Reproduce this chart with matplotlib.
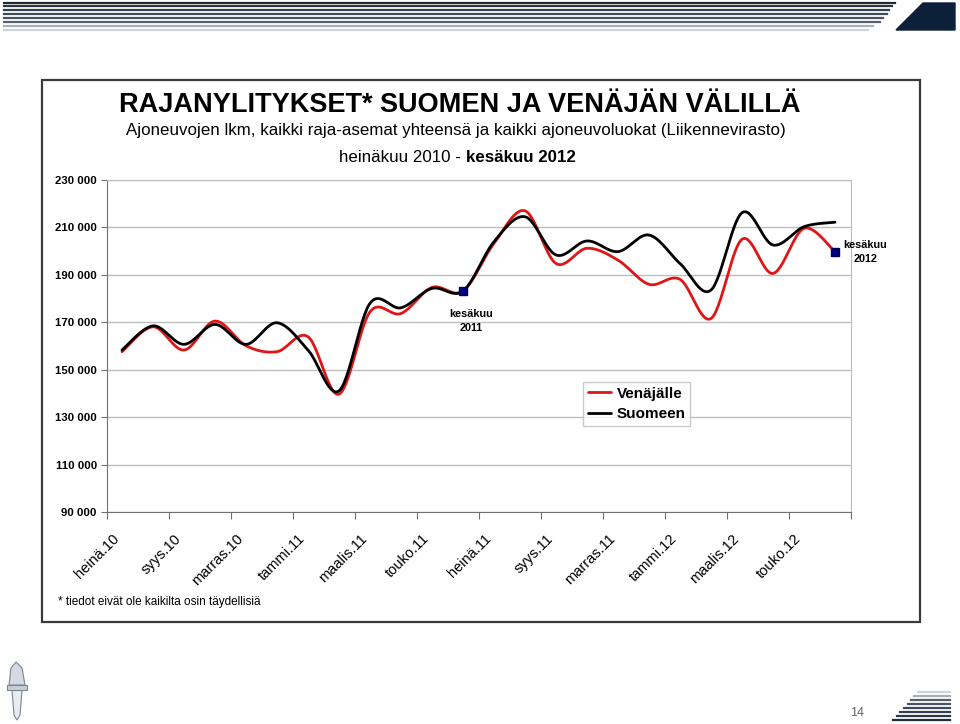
import numpy as np
import matplotlib.pyplot as plt
import matplotlib.transforms as mtransforms
from matplotlib.patches import Rectangle, Polygon
from matplotlib.lines import Line2D

plt.rcParams['font.family'] = ['Liberation Sans', 'DejaVu Sans']

# data
months = ["heinä.10", "elo.10", "syys.10", "loka.10", "marras.10", "joulu.10",
          "tammi.11", "helmi.11", "maalis.11", "huhti.11", "touko.11", "kesä.11",
          "heinä.11", "elo.11", "syys.11", "loka.11", "marras.11", "joulu.11",
          "tammi.12", "helmi.12", "maalis.12", "huhti.12", "touko.12", "kesä.12"]
venajalle = [157600, 168100, 158300, 170500, 160100, 157600,
             163900, 139700, 174400, 173700, 184700, 183200,
             203300, 217000, 194800, 201200, 196200, 186000,
             188100, 171600, 205000, 190600, 209600, 199800]
suomeen = [158300, 168500, 160700, 169100, 160700, 169800,
           158300, 141100, 178000, 176100, 184300, 183200,
           204000, 214500, 198400, 204300, 199800, 206800,
           194800, 183600, 216200, 202600, 210300, 212200]
yticks = [90000, 110000, 130000, 150000, 170000, 190000, 210000, 230000]


def smooth(x, y, n=30):
    # excel-like smoothed line: bezier segments, control points from neighbours
    x = np.asarray(x, float)
    y = np.asarray(y, float)
    px = np.concatenate([[x[0]], x, [x[-1]]])
    py = np.concatenate([[y[0]], y, [y[-1]]])
    xs, ys = [], []
    t = np.linspace(0, 1, n)
    for i in range(1, len(px) - 2):
        p0 = np.array([px[i], py[i]])
        p3 = np.array([px[i + 1], py[i + 1]])
        p1 = p0 + (np.array([px[i + 1], py[i + 1]]) - np.array([px[i - 1], py[i - 1]])) / 6
        p2 = p3 - (np.array([px[i + 2], py[i + 2]]) - np.array([px[i], py[i]])) / 6
        b = ((1 - t) ** 3)[:, None] * p0 + (3 * (1 - t) ** 2 * t)[:, None] * p1 \
            + (3 * (1 - t) * t ** 2)[:, None] * p2 + (t ** 3)[:, None] * p3
        xs.extend(b[:, 0])
        ys.extend(b[:, 1])
    return xs, ys


W, H = 960, 724
fig = plt.figure(figsize=(9.6, 7.24), dpi=100)


def fx(px):
    return px / W


def fy(py):
    return 1 - py / H


# slide decoration: stripes top and bottom
stripe_y = [2.7, 6, 10, 14, 18, 22, 26, 30]
stripe_end = [895, 892, 889, 887, 883, 880, 873, 868]
stripe_col = ['#1f2b38', '#2a3644', '#34404e', '#3e4a58', '#485462', '#56616e', '#a8aeb5', '#cfd3d7']
for yy, xe, c in zip(stripe_y, stripe_end, stripe_col):
    fig.add_artist(Line2D([fx(4), fx(xe)], [fy(yy), fy(yy)], color=c, lw=1.6))
fig.add_artist(Polygon([(fx(896), fy(30)), (fx(923), fy(3)), (fx(955), fy(3)), (fx(955), fy(30))],
                       closed=True, color='#0d2039', transform=fig.transFigure))

bot_y = [692, 696, 700, 704, 708, 712, 716, 720]
bot_start = [918, 914, 911, 908, 904, 900, 897, 893]
bot_col = ['#cfd3d7', '#a8aeb5', '#56616e', '#485462', '#3e4a58', '#34404e', '#2a3644', '#1f2b38']
for yy, xs0, c in zip(bot_y, bot_start, bot_col):
    fig.add_artist(Line2D([fx(xs0), fx(950)], [fy(yy), fy(yy)], color=c, lw=1.6))
fig.text(fx(857), fy(713), "14", fontsize=9, color='#606060', ha='center', va='center')

# simple logo (sword)
fig.add_artist(Polygon([(fx(12), fy(690)), (fx(22), fy(690)), (fx(20), fy(715)),
                        (fx(17), fy(720)), (fx(14), fy(715))],
                       closed=True, facecolor='#e8ecf0', edgecolor='#7a8590', lw=0.8,
                       transform=fig.transFigure))
fig.add_artist(Rectangle((fx(7), fy(690)), fx(20), 5 / H, facecolor='#c8ced6',
                         edgecolor='#7a8590', lw=0.8, transform=fig.transFigure))
fig.add_artist(Polygon([(fx(9), fy(685)), (fx(11), fy(668)), (fx(16), fy(662)),
                        (fx(22), fy(668)), (fx(25), fy(685))],
                       closed=True, facecolor='#d5dae0', edgecolor='#7a8590', lw=0.8,
                       transform=fig.transFigure))

# chart frame
fig.add_artist(Rectangle((fx(42), fy(622)), (920 - 42) / W, (622 - 80) / H,
                         fill=False, edgecolor='#3a3a3a', lw=1.6, transform=fig.transFigure))

# titles
fig.text(fx(460), fy(105), "RAJANYLITYKSET* SUOMEN JA VENÄJÄN VÄLILLÄ",
         fontsize=19.5, fontweight='bold', ha='center', va='center')
fig.text(fx(456), fy(131), "Ajoneuvojen lkm, kaikki raja-asemat yhteensä ja kaikki ajoneuvoluokat (Liikennevirasto)",
         fontsize=12.2, ha='center', va='center')
fig.text(fx(466), fy(157), "heinäkuu 2010 - ", fontsize=12.2, ha='right', va='center')
fig.text(fx(466), fy(157), "kesäkuu 2012", fontsize=12.2, fontweight='bold', ha='left', va='center')

# plot area
ax = fig.add_axes([fx(106.5), fy(512), (850.5 - 106.5) / W, (512 - 180) / H])
x = np.arange(len(months))

xr, yr = smooth(x, venajalle)
xb, yb = smooth(x, suomeen)
ax.plot(xr, yr, color='#e01515', lw=2.0, label='Venäjälle', solid_capstyle='round')
ax.plot(xb, yb, color='black', lw=2.0, label='Suomeen', solid_capstyle='round')

# markers at kesäkuu 2011 and kesäkuu 2012
for i, lab, off, ha, va in [(11, "kesäkuu\n2011", (6, -13), 'center', 'top'),
                            (23, "kesäkuu\n2012", (6, 0), 'left', 'center')]:
    ax.plot(x[i], venajalle[i], marker='s', ms=6, color='#000080', mec='#000050', zorder=5)
    ax.annotate(lab, xy=(x[i], venajalle[i]), xytext=off, textcoords='offset points',
                ha=ha, va=va, fontsize=7.8, fontweight='bold', multialignment='center',
                linespacing=1.5)

ax.set_xlim(-0.5, 23.5)
ax.set_ylim(90000, 230000)
ax.set_yticks(yticks)
ax.set_yticklabels([f"{v:,}".replace(",", " ") for v in yticks], fontsize=8.2, fontweight='bold')
ax.yaxis.grid(True, color='#bdbdbd', lw=1)
ax.set_axisbelow(True)

ax.set_xticks(np.arange(-0.5, 24, 2))
ax.set_xticklabels([])
ax.set_xticks(x[::2], minor=True)
ax.set_xticklabels(months[::2], minor=True, rotation=45, ha='right',
                   rotation_mode='anchor', fontsize=10.5)
ax.tick_params(axis='x', which='minor', length=0, pad=14)
ax.tick_params(axis='x', which='major', length=5, color='#707070')
ax.tick_params(axis='y', length=4, color='#707070', pad=3)
shift = mtransforms.ScaledTranslation(-10 / 100, 0, fig.dpi_scale_trans)
for lbl in ax.get_xticklabels(minor=True):
    lbl.set_transform(lbl.get_transform() + shift)

for s in ['left', 'bottom']:
    ax.spines[s].set_color('#707070')
for s in ['top', 'right']:
    ax.spines[s].set_color('#bdbdbd')

leg = ax.legend(loc='upper left', bbox_to_anchor=(fx(583), fy(382)),
                bbox_transform=fig.transFigure, fontsize=11, frameon=True, fancybox=False,
                handlelength=1.5, handletextpad=0.4, borderpad=0.3, labelspacing=0.45,
                borderaxespad=0)
leg.get_frame().set_edgecolor('#bdbdbd')
leg.get_frame().set_linewidth(1)
for txt in leg.get_texts():
    txt.set_fontweight('bold')

fig.text(fx(58), fy(602), "* tiedot eivät ole kaikilta osin täydellisiä", fontsize=8.5,
         ha='left', va='center')

fig.savefig('out.png', dpi=100)
